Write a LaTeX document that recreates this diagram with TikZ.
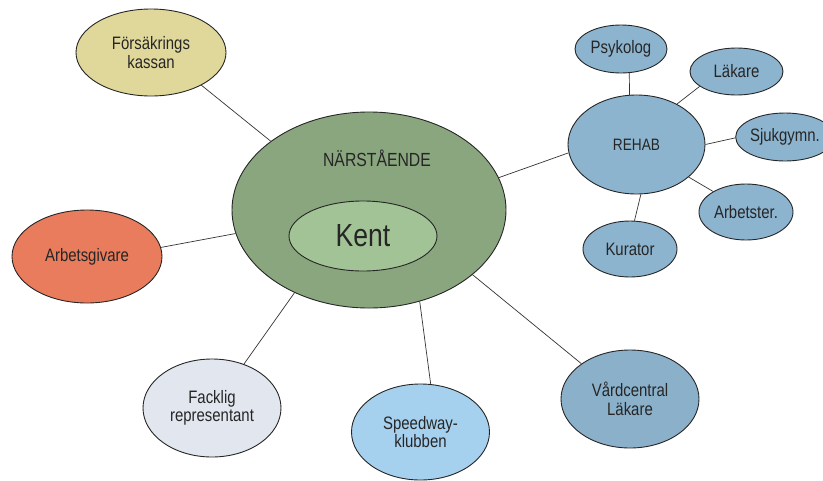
\documentclass[tikz,border=0pt]{standalone}
\usepackage{fontspec}
\setmainfont[FakeStretch=0.83]{Liberation Sans}
\usetikzlibrary{shapes.geometric}
\definecolor{cYel}{HTML}{E0D89A}
\definecolor{cMain}{HTML}{8AA67F}
\definecolor{cKent}{HTML}{A2C396}
\definecolor{cOrg}{HTML}{E87C5C}
\definecolor{cBlue}{HTML}{8CB4CF}
\definecolor{cGrey}{HTML}{E2E6EE}
\definecolor{cLight}{HTML}{A5D0EE}
\definecolor{cVard}{HTML}{8AB0CA}
\begin{document}
\begin{tikzpicture}[x=1pt,y=-1pt,
  bub/.style={ellipse, draw=black!85, line width=0.9pt, inner sep=0pt, align=center,
    text=black!85, font=\fontsize{18}{18.5}\selectfont},
  link/.style={line width=0.7pt, draw=black!80}]
\useasboundingbox (0,0) rectangle (823,480);
% nodes
\node[bub, fill=cYel, minimum width=150pt, minimum height=87pt] (fk) at (151,52.5) {Försäkrings\\kassan};
\node[bub, fill=cMain, minimum width=274pt, minimum height=196pt] (main) at (369,210) {};
\node[text=black!85, font=\fontsize{19}{20}\selectfont] (narlabel) at (377,158.5) {NÄRSTÅENDE};
\node[bub, fill=cKent, minimum width=148pt, minimum height=70pt, font=\fontsize{32}{34}\selectfont] (kent) at (363,236) {Kent};
\node[bub, fill=cOrg, minimum width=150pt, minimum height=93pt] (ag) at (87,256.5) {Arbetsgivare};
\node[bub, fill=cBlue, minimum width=137pt, minimum height=99pt, font=\fontsize{16.5}{18}\selectfont] (rehab) at (636.5,144.5) {REHAB};
\node[bub, fill=cBlue, minimum width=92pt, minimum height=48pt] (psy) at (621,49) {Psykolog};
\node[bub, fill=cBlue, minimum width=93pt, minimum height=47pt] (lak) at (736.5,71.5) {Läkare};
\node[bub, fill=cBlue, minimum width=92pt, minimum height=48pt] (sjuk) at (785,137) {Sjukgymn.};
\node[bub, fill=cBlue, minimum width=94pt, minimum height=56pt] (arbst) at (746,212) {Arbetster.};
\node[bub, fill=cBlue, minimum width=94pt, minimum height=56pt] (kur) at (630,249) {Kurator};
\node[bub, fill=cGrey, minimum width=138pt, minimum height=98pt] (fack) at (212,408) {Facklig\\representant};
\node[bub, fill=cLight, minimum width=138pt, minimum height=96pt] (speed) at (420.5,432) {Speedway-\\klubben};
\node[bub, fill=cVard, minimum width=138pt, minimum height=98pt] (vard) at (630,399) {Vårdcentral\\Läkare};
% connectors
\draw[link] (fk.-33.8) -- (main.145.1);
\draw[link] (ag.7.2) -- (main.-170.7);
\draw[link] (rehab.187.9) -- (main.14.8);
\draw[link] (fack.54) -- (main.228.5);
\draw[link] (speed.78.8) -- (main.-61);
\draw[link] (vard.144) -- (main.-32.7);
\draw[link] (psy.-71.6) -- (rehab.98.8);
\draw[link] (lak.202.5) -- (rehab.45);
\draw[link] (sjuk.181) -- (rehab.0);
\draw[link] (arbst.148.8) -- (rehab.-32.5);
\draw[link] (kur.81.9) -- (rehab.-85);
\end{tikzpicture}
\end{document}
